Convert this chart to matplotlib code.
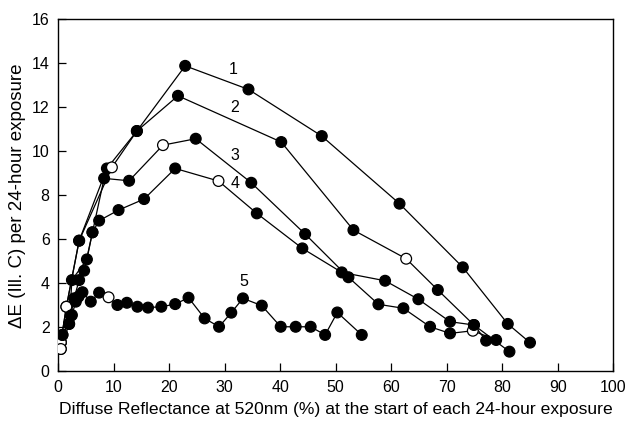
import matplotlib
matplotlib.use("Agg")
import matplotlib.pyplot as plt

plt.rcParams['font.family'] = ['Liberation Sans', 'DejaVu Sans']

# Reflectance (%) and colour change per 24 h for each sample; True = open marker
s1_x = [0.5, 1.5, 3.8, 8.8, 14.2, 22.9, 34.3, 47.5, 61.5, 72.9, 81.0, 85.0]
s1_y = [1.32, 2.94, 5.94, 9.22, 10.92, 13.88, 12.81, 10.69, 7.62, 4.73, 2.16, 1.31]
s1_open = [True, True] + [False] * 10

s2_x = [0.5, 1.5, 3.8, 9.7, 14.2, 21.6, 40.2, 53.2, 62.7, 68.4, 74.9, 81.3]
s2_y = [1.32, 2.94, 5.94, 9.27, 10.92, 12.52, 10.42, 6.42, 5.12, 3.70, 2.11, 0.90]
s2_open = [True, True, False, True, False, False, False, False, True, False, False, False]

s3_x = [0.5, 2.0, 2.5, 5.2, 6.2, 8.3, 12.8, 18.9, 24.8, 34.8, 44.5, 52.3, 57.7,
        62.2, 67.0, 70.6, 74.7, 78.9]
s3_y = [1.02, 2.16, 4.15, 5.09, 6.32, 8.77, 8.66, 10.28, 10.57, 8.57, 6.24, 4.28,
        3.05, 2.87, 2.03, 1.73, 1.85, 1.43]
s3_open = [True, False, False, False, False, False, False, True, False, False,
           False, False, False, False, False, False, True, False]

s4_x = [0.5, 0.8, 2.3, 2.9, 3.8, 4.7, 6.2, 7.4, 10.9, 15.5, 21.1, 28.9, 35.8,
        44.0, 51.1, 58.9, 64.9, 70.6, 74.9, 77.1]
s4_y = [1.32, 1.66, 2.53, 3.32, 4.15, 4.58, 6.32, 6.85, 7.33, 7.83, 9.22, 8.65,
        7.18, 5.59, 4.50, 4.12, 3.28, 2.26, 2.11, 1.40]
s4_open = [True] + [False] * 10 + [True] + [False] * 8

s5_x = [0.5, 0.8, 2.0, 2.5, 3.2, 3.7, 4.4, 5.9, 7.4, 9.1, 10.7, 12.4, 14.3, 16.2,
        18.6, 21.1, 23.5, 26.4, 29.0, 31.2, 33.3, 36.7, 40.1, 42.8, 45.5, 48.1,
        50.3, 54.7]
s5_y = [1.02, 1.66, 2.16, 2.56, 3.17, 3.40, 3.60, 3.17, 3.58, 3.37, 3.02, 3.12,
        2.94, 2.90, 2.94, 3.06, 3.35, 2.41, 2.03, 2.67, 3.32, 2.99, 2.03, 2.03,
        2.03, 1.66, 2.68, 1.66]
s5_open = [True] + [False] * 8 + [True] + [False] * 18

series = [
    ("1", s1_x, s1_y, s1_open),
    ("2", s2_x, s2_y, s2_open),
    ("3", s3_x, s3_y, s3_open),
    ("4", s4_x, s4_y, s4_open),
    ("5", s5_x, s5_y, s5_open),
]

# Curve number labels (x, y)
label_pos = {"1": (31.5, 13.7), "2": (31.8, 12.0), "3": (31.9, 9.8),
             "4": (31.9, 8.55), "5": (33.4, 4.1)}

fig = plt.figure(figsize=(6.26, 4.26), dpi=100)
ax = fig.add_axes([0.0927, 0.128, 0.887, 0.827])

for name, xs, ys, opn in series:
    ax.plot(xs, ys, color="black", lw=0.9, zorder=2)
    fc = ["white" if o else "black" for o in opn]
    ax.scatter(xs, ys, s=60, facecolors=fc, edgecolors="black",
               linewidths=0.9, zorder=3)
    lx, ly = label_pos[name]
    ax.text(lx, ly, name, fontsize=11.5, ha="center", va="center")

ax.set_xlim(0, 100)
ax.set_ylim(0, 16)
ax.set_xticks(range(0, 101, 10))
ax.set_yticks(range(0, 17, 2))
ax.tick_params(direction="in", length=6, width=0.9, labelsize=11.5, pad=6,
               top=False, right=False)
for sp in ax.spines.values():
    sp.set_linewidth(1.0)

ax.set_xlabel("Diffuse Reflectance at 520nm (%) at the start of each 24-hour exposure",
              fontsize=12.6, labelpad=5)
ax.set_ylabel("ΔE (Ill. C) per 24-hour exposure", fontsize=13.5, labelpad=4)

fig.savefig("out.png", dpi=100)
